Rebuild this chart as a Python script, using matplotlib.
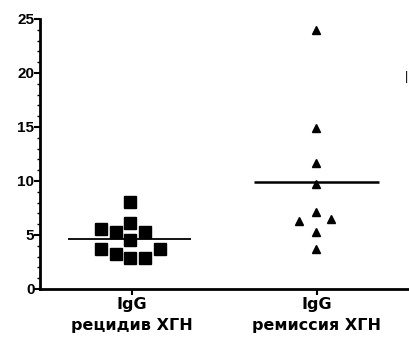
import matplotlib
matplotlib.use("Agg")
import matplotlib.pyplot as plt
from matplotlib.ticker import MultipleLocator
import numpy as np

plt.rcParams['font.family'] = ['Liberation Sans', 'DejaVu Sans']

groups = ["IgG\nрецидив ХГН", "IgG\nремиссия ХГН"]

relapse = [8.1, 6.1, 5.6, 5.3, 5.3, 4.5, 3.7, 3.2, 3.7, 2.9, 2.9]
relapse_jitter = [0, 0, -0.16, -0.08, 0.08, 0, -0.16, -0.08, 0.16, 0, 0.08]

remission = [24.0, 14.9, 11.7, 9.7, 7.1, 6.3, 6.5, 5.3, 3.7]
remission_jitter = [0, 0, 0, 0, 0, -0.09, 0.08, 0, 0]

fig = plt.figure(figsize=(4.09, 3.48), dpi=100)
ax = fig.add_axes([40 / 409, 59 / 348, 369 / 409, 270 / 348])

ax.plot(np.array(relapse_jitter) - 0.01, relapse, 's', color='black', markersize=8.5, linestyle='none')
ax.plot(1 + np.array(remission_jitter) - 0.005, remission, '^', color='black', markersize=5.5, linestyle='none')

ax.hlines(np.mean(relapse), -0.35, 0.32, color='black', lw=1.3)
ax.hlines(np.mean(remission), 1 - 0.34, 1 + 0.34, color='black', lw=1.8)

ax.set_xlim(-0.5, 1.5)
ax.set_ylim(0, 25)
ax.set_xticks([0, 1])
ax.set_xticklabels(groups, fontsize=11.5, fontweight='bold', linespacing=1.45,
                   family=['DejaVu Sans'])
ax.yaxis.set_major_locator(MultipleLocator(5))
ax.yaxis.set_minor_locator(MultipleLocator(1))
ax.tick_params(axis='y', which='major', length=4, width=1.5, pad=0, labelsize=11)
ax.tick_params(axis='y', which='minor', length=2, width=1)
ax.tick_params(axis='x', length=4, width=1.5, pad=2)
for lab in ax.get_yticklabels():
    lab.set_fontweight('bold')

for s in ['top', 'right']:
    ax.spines[s].set_visible(False)
for s in ['left', 'bottom']:
    ax.spines[s].set_linewidth(2)

fig.text(406 / 409, 1 - 77 / 348, "|", fontsize=9, ha='center', va='center')

fig.savefig("out.png", dpi=100)
